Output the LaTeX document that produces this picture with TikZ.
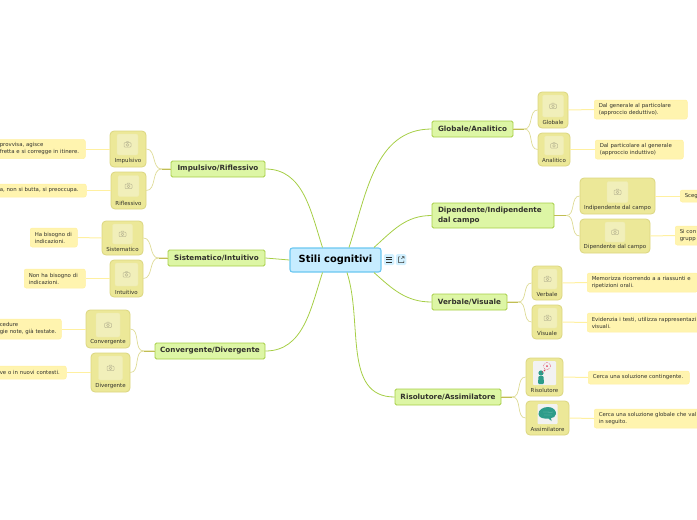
\documentclass[tikz,border=0pt]{standalone}
\usepackage{xcolor}
\usepackage{fontspec}
\setmainfont{DejaVu Sans}
\usetikzlibrary{calc, positioning}
\definecolor{RootBlue}{RGB}{198, 236, 255}
\definecolor{RootEdge}{RGB}{107, 199, 240}
\definecolor{MainGreen}{RGB}{221, 246, 165}
\definecolor{GreenEdge}{RGB}{166, 206, 70}
\definecolor{TopicFill}{RGB}{236, 232, 152}
\definecolor{TopicEdge}{RGB}{219, 214, 128}
\definecolor{PicFill}{RGB}{241, 239, 186}
\definecolor{NoteFill}{RGB}{255, 244, 175}
\definecolor{NoteEdge}{RGB}{255, 240, 160}
\definecolor{TrunkLine}{RGB}{193, 190, 84}
\definecolor{TwigLine}{RGB}{222, 219, 150}
\definecolor{CamGrey}{RGB}{190, 187, 150}
\definecolor{IconTeal}{RGB}{45, 156, 138}
\definecolor{IconRed}{RGB}{222, 60, 90}
\definecolor{TextDark}{RGB}{50, 50, 45}

\begin{document}
\begin{tikzpicture}[
        x=1pt, y=-1pt,
        rootbox/.style = {draw=RootEdge, line width=1.1pt, fill=RootBlue, rounded corners=2.5pt, inner sep=0pt, font=\bfseries\fontsize{9.9}{11}\selectfont, text=black},
        toolbox/.style = {fill=RootBlue!80, rounded corners=1.5pt, inner sep=0pt, minimum width=10.5pt, minimum height=11pt},
        mainbox/.style = {draw=GreenEdge, line width=0.8pt, fill=MainGreen, rounded corners=1.5pt, inner sep=0pt, align=left, text=TextDark, font=\bfseries\fontsize{7.2}{9.2}\selectfont},
        topicbox/.style = {draw=TopicEdge, line width=0.8pt, fill=TopicFill, rounded corners=4pt, inner sep=0pt},
        picbox/.style = {fill=PicFill, draw=PicFill!70!TopicFill, rounded corners=2pt, inner sep=0pt},
        imgbox/.style = {fill=black!5, rounded corners=1pt, inner sep=0pt},
        toptext/.style = {inner sep=0pt, text=TextDark, font=\fontsize{5.5}{6}\selectfont},
        notebox/.style = {draw=NoteEdge, line width=0.5pt, fill=NoteFill, rounded corners=2pt, inner ysep=0pt, inner xsep=4.5pt, minimum height=13pt, align=left, anchor=west, text=TextDark, font=\fontsize{5.4}{7}\selectfont},
        rootline/.style = {draw=GreenEdge, line width=0.8pt},
        trunk/.style = {draw=TrunkLine, line width=1pt},
        twig/.style = {draw=TwigLine, line width=0.7pt},
        noteline/.style = {draw=NoteEdge, line width=1pt},
        camera/.pic = {
            \draw [CamGrey, line width=0.5pt, rounded corners=0.8pt] (-3.5,-1.8) rectangle (3.5,2.6);
            \draw [CamGrey, line width=0.5pt] (-1.4,-1.8) -- (-0.9,-2.8) -- (0.9,-2.8) -- (1.4,-1.8);
            \draw [CamGrey, line width=0.5pt] (0,0.4) circle (1.4pt);
        }
    ]
        \useasboundingbox (0,0) rectangle (697,520);

        % Root
        \node (root) [rootbox, minimum width=91pt, minimum height=24pt] at (335.5,260) {Stili cognitivi};
        \node (menu_btn) [toolbox] at (389,259.5) {};
        \node (link_btn) [toolbox] at (401,259.5) {};
        \draw [TextDark, line width=0.5pt] (386,257) -- (392,257) (386,259.5) -- (392,259.5) (386,262) -- (392,262);
        \draw [TextDark, line width=0.5pt] (400,256.8) -- (398.5,256.8) -- (398.5,262.5) -- (403.8,262.5) -- (403.8,260.5) (401.5,258.8) -- (404,256.5) (402,256.5) -- (404,256.5) -- (404,258.5);

        % Main topics, left
        \node (impulsivo) [mainbox, minimum width=94pt, minimum height=16pt] at (218,169) {Impulsivo/Riflessivo};
        \node (sistematico) [mainbox, minimum width=97pt, minimum height=16pt] at (216.5,258) {Sistematico/Intuitivo};
        \node (convergente) [mainbox, minimum width=110pt, minimum height=16pt] at (210,351) {Convergente/Divergente};

        % Main topics, right
        \node (globale) [mainbox, minimum width=81pt, minimum height=16pt] at (472.5,129) {Globale/Analitico};
        \node (dipendente) [mainbox, minimum width=122pt, minimum height=25pt, text width=110pt] at (493,215.5) {Dipendente/Indipendente\\dal campo};
        \node (verbale) [mainbox, minimum width=75pt, minimum height=16pt] at (469.5,302) {Verbale/Visuale};
        \node (risolutore) [mainbox, minimum width=106pt, minimum height=16pt] at (448,397) {Risolutore/Assimilatore};

        % Topics with picture, left
        \node (t_impulsivo) [topicbox, minimum width=36pt, minimum height=36pt] at (128,149) {};
        \node (p_impulsivo) [picbox, minimum width=21pt, minimum height=21pt] at (127.5,144.5) {};
        \node (l_impulsivo) [toptext] at (128,161) {Impulsivo};
        \node (t_riflessivo) [topicbox, minimum width=35pt, minimum height=37pt] at (128.5,190.5) {};
        \node (p_riflessivo) [picbox, minimum width=21pt, minimum height=21pt] at (128.5,186) {};
        \node (l_riflessivo) [toptext] at (128.5,203) {Riflessivo};
        \node (t_sistematico) [topicbox, minimum width=41pt, minimum height=34pt] at (122.5,238) {};
        \node (p_sistematico) [picbox, minimum width=20pt, minimum height=20pt] at (122.5,234) {};
        \node (l_sistematico) [toptext] at (122.5,249) {Sistematico};
        \node (t_intuitivo) [topicbox, minimum width=33pt, minimum height=37pt] at (126.5,278.5) {};
        \node (p_intuitivo) [picbox, minimum width=23pt, minimum height=23pt] at (126.5,274.5) {};
        \node (l_intuitivo) [toptext] at (126.5,292) {Intuitivo};
        \node (t_convergente) [topicbox, minimum width=44pt, minimum height=38pt] at (108,329) {};
        \node (p_convergente) [picbox, minimum width=24pt, minimum height=24pt] at (108,325) {};
        \node (l_convergente) [toptext] at (108,342) {Convergente};
        \node (t_divergente) [topicbox, minimum width=39pt, minimum height=39pt] at (110.5,372.5) {};
        \node (p_divergente) [picbox, minimum width=24pt, minimum height=24pt] at (110.5,368) {};
        \node (l_divergente) [toptext] at (110.5,386) {Divergente};

        % Topics with picture, right
        \node (t_globale) [topicbox, minimum width=30pt, minimum height=36pt] at (553,110) {};
        \node (p_globale) [picbox, minimum width=21pt, minimum height=22pt] at (553,106) {};
        \node (l_globale) [toptext] at (553,122) {Globale};
        \node (t_analitico) [topicbox, minimum width=32pt, minimum height=33pt] at (554,149.5) {};
        \node (p_analitico) [picbox, minimum width=19pt, minimum height=19pt] at (554,145.5) {};
        \node (l_analitico) [toptext] at (554,160) {Analitico};
        \node (t_indipendente) [topicbox, minimum width=75pt, minimum height=36pt] at (617.5,196) {};
        \node (p_indipendente) [picbox, minimum width=21pt, minimum height=21pt] at (617.5,192) {};
        \node (l_indipendente) [toptext] at (617.5,208) {Indipendente dal campo};
        \node (t_dipendente) [topicbox, minimum width=70pt, minimum height=34pt] at (615,236) {};
        \node (p_dipendente) [picbox, minimum width=20pt, minimum height=20pt] at (615,232) {};
        \node (l_dipendente) [toptext] at (615,247) {Dipendente dal campo};
        \node (t_verbale) [topicbox, minimum width=30pt, minimum height=34pt] at (547,283) {};
        \node (p_verbale) [picbox, minimum width=19pt, minimum height=20pt] at (547.5,279) {};
        \node (l_verbale) [toptext] at (547,294) {Verbale};
        \node (t_visuale) [topicbox, minimum width=30pt, minimum height=34pt] at (547,322) {};
        \node (p_visuale) [picbox, minimum width=19pt, minimum height=20pt] at (547.5,318) {};
        \node (l_visuale) [toptext] at (547,333) {Visuale};
        \node (t_risolutore) [topicbox, minimum width=37pt, minimum height=38pt] at (544.5,377) {};
        \node (p_risolutore) [imgbox, minimum width=23pt, minimum height=24pt] at (544.5,373) {};
        \node (l_risolutore) [toptext] at (544.5,390) {Risolutore};
        \node (t_assimilatore) [topicbox, minimum width=43pt, minimum height=34pt] at (547.5,418) {};
        \node (p_assimilatore) [imgbox, minimum width=20pt, minimum height=20pt] at (547.5,414) {};
        \node (l_assimilatore) [toptext] at (547.5,429) {Assimilatore};

        % Camera glyphs
        \foreach \picname in {impulsivo, riflessivo, sistematico, intuitivo, convergente, divergente, globale, analitico, indipendente, dipendente, verbale, visuale}
            \pic at (p_\picname) {camera};

        % Picture of the solver
        \fill [IconTeal] (541,373) circle (2.6pt);
        \fill [IconTeal, rounded corners=1pt] (538.5,376) -- (543.5,376) -- (544,384) -- (538,384) -- cycle;
        \draw [IconRed, line width=0.5pt, densely dotted] (547,366) circle (3.6pt);
        \fill [IconRed] (547,366) circle (1pt);
        \fill [IconRed] (544.5,370.5) circle (0.9pt);
        \fill [IconRed] (542.5,372) circle (0.6pt);

        % Picture of the brain
        \fill [IconTeal] (538.5,414.5) .. controls (538,410) and (543,407) .. (548,407) .. controls (553,407) and (556.5,410.5) .. (556,414) .. controls (555.5,417) and (553,418) .. (551,418) -- (551.5,421) -- (548.5,418.5) .. controls (544,419) and (539,418) .. (538.5,414.5) -- cycle;
        \draw [IconTeal!60!white, line width=0.3pt] (543,412) .. controls (546,411) and (549,413) .. (553,412) (544,415) .. controls (547,414) and (549,416) .. (552,415);

        % Notes, left (cut by the page)
        \node (n_impulsivo) [notebox, text width=81pt, minimum height=19pt] at (-5,149) {provvisa, agisce\\fretta e si corregge in itinere.};
        \node (n_riflessivo) [notebox, text width=82pt] at (-5,190.5) {a, non si butta, si preoccupa.};
        \node (n_sistematico) [notebox, text width=38pt, minimum height=19pt] at (30,237.5) {Ha bisogno di\\indicazioni.};
        \node (n_intuitivo) [notebox, text width=52pt, minimum height=19pt] at (24,278.5) {Non ha bisogno di\\indicazioni.};
        \node (n_convergente) [notebox, text width=57pt, minimum height=20pt] at (-5,329) {cedure\\gie note, già testate.};
        \node (n_divergente) [notebox, text width=62pt] at (-5,372.5) {ve o in nuovi contesti.};

        % Notes, right (cut by the page)
        \node (n_globale) [notebox, text width=84pt, minimum height=19pt] at (594,109.5) {Dal generale al particolare\\(approccio deduttivo).};
        \node (n_analitico) [notebox, text width=79pt, minimum height=19pt] at (595,149.5) {Dal particolare al generale\\(approccio induttivo)};
        \node (n_indipendente) [notebox, text width=40pt, minimum height=12pt] at (680,196) {Sceg};
        \node (n_dipendente) [notebox, text width=40pt, minimum height=19pt] at (675,235.5) {Si con\\grupp};
        \node (n_verbale) [notebox, text width=101.5pt, minimum height=19pt] at (587,282.5) {Memorizza ricorrendo a a riassunti e\\ripetizioni orali.};
        \node (n_visuale) [notebox, text width=120pt, minimum height=19pt] at (587,322.5) {Evidenzia i testi, utilizza rappresentazi\\visuali.};
        \node (n_risolutore) [notebox, text width=92pt] at (588,377.5) {Cerca una soluzione contingente.};
        \node (n_assimilatore) [notebox, text width=120pt, minimum height=19pt] at (594,418.5) {Cerca una soluzione globale che val\\in seguito.};

        % Root to main topics
        \draw [rootline] (impulsivo.east) to [out=0, in=108] ([xshift=-13pt]root.north);
        \draw [rootline] (sistematico.east) -- (root.west);
        \draw [rootline] (convergente.east) to [out=0, in=-108] ([xshift=-13pt]root.south);
        \draw [rootline] (globale.west) to [out=180, in=72] ([xshift=13.5pt]root.north);
        \draw [rootline] (dipendente.west) to [out=180, in=42] ([xshift=38.5pt]root.north);
        \draw [rootline] (verbale.west) to [out=180, in=-42] ([xshift=38.5pt]root.south);
        \draw [rootline] (risolutore.west) to [out=180, in=-72] ([xshift=11.5pt]root.south);

        % Main topics to topics, left
        \draw [twig] (impulsivo.west) -- ++(-9,0) to [out=180, in=0] (t_impulsivo.east);
        \draw [twig] (impulsivo.west) -- ++(-9,0) to [out=180, in=0] (t_riflessivo.east);
        \draw [trunk] (impulsivo.west) -- ++(-9,0);
        \draw [twig] (sistematico.west) -- ++(-9,0) to [out=180, in=0] (t_sistematico.east);
        \draw [twig] (sistematico.west) -- ++(-9,0) to [out=180, in=0] (t_intuitivo.east);
        \draw [trunk] (sistematico.west) -- ++(-9,0);
        \draw [twig] (convergente.west) -- ++(-11,0) to [out=180, in=0] (t_convergente.east);
        \draw [twig] (convergente.west) -- ++(-11,0) to [out=180, in=0] (t_divergente.east);
        \draw [trunk] (convergente.west) -- ++(-11,0);

        % Main topics to topics, right
        \draw [twig] (globale.east) -- ++(11,0) to [out=0, in=180] (t_globale.west);
        \draw [twig] (globale.east) -- ++(11,0) to [out=0, in=180] (t_analitico.west);
        \draw [trunk] (globale.east) -- ++(11,0);
        \draw [twig] (dipendente.east) -- ++(12,0) to [out=0, in=180] (t_indipendente.west);
        \draw [twig] (dipendente.east) -- ++(12,0) to [out=0, in=180] (t_dipendente.west);
        \draw [trunk] (dipendente.east) -- ++(12,0);
        \draw [twig] (verbale.east) -- ++(11,0) to [out=0, in=180] (t_verbale.west);
        \draw [twig] (verbale.east) -- ++(11,0) to [out=0, in=180] (t_visuale.west);
        \draw [trunk] (verbale.east) -- ++(11,0);
        \draw [twig] (risolutore.east) -- ++(11,0) to [out=0, in=180] (t_risolutore.west);
        \draw [twig] (risolutore.east) -- ++(11,0) to [out=0, in=180] (t_assimilatore.west);
        \draw [trunk] (risolutore.east) -- ++(11,0);

        % Topics to notes
        \foreach \topicname in {impulsivo, riflessivo, sistematico, intuitivo, convergente, divergente}
            \draw [noteline] (t_\topicname.west) -- (n_\topicname.east);
        \foreach \topicname in {globale, analitico, indipendente, dipendente, verbale, visuale, risolutore, assimilatore}
            \draw [noteline] (t_\topicname.east) -- (n_\topicname.west);
    \end{tikzpicture}
\end{document}
